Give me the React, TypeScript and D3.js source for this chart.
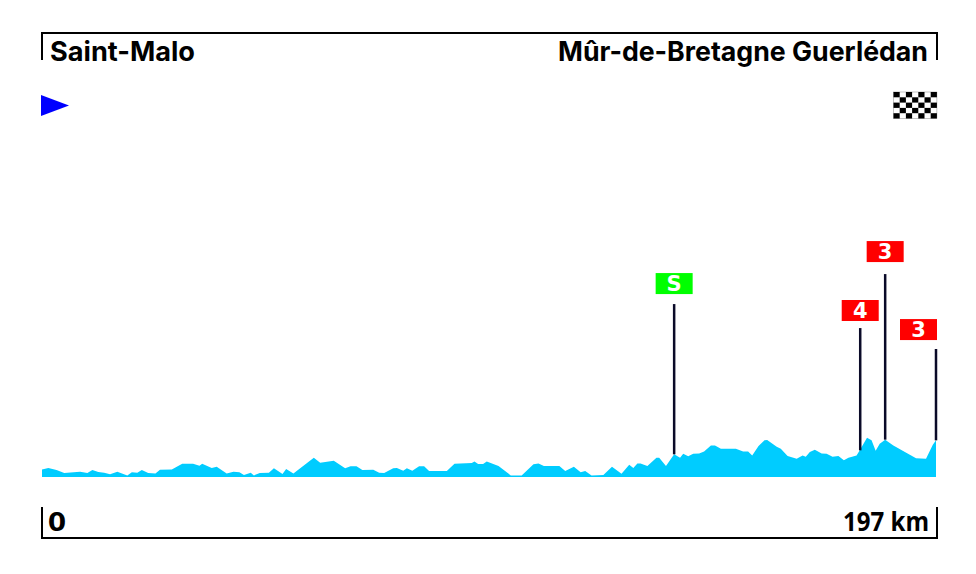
import { useEffect, useRef } from "react";
import * as d3 from "d3";

const width = 976;
const height = 574;

const startName = "Saint-Malo";
const finishName = "Mûr-de-Bretagne Guerlédan";
const distanceLabels = ["0", "197 km"];
const totalKm = 197;

// profile (km, metres)
const profileKm = [
  0, 1.4, 3.2, 4.9, 8.4, 10, 11.1, 12.4, 13.7, 15, 16.6, 18.8, 19.8, 21, 22, 23.4, 25, 26, 28.6, 30.9,
  33.3, 34.7, 35.3, 37.4, 38.5, 40.7, 42.2, 43.5, 44.5, 46, 46.7, 48, 50, 51.1, 53, 53.8, 55.4, 59.9, 61.3, 64.3,
  66.8, 68, 69.3, 70.6, 73, 74.3, 75.4, 77.4, 78.2, 79.6, 80.4, 81.6, 83.1, 84.2, 85.3, 89.2, 90.9, 94.7, 95.3, 96.1,
  97.2, 98, 100.6, 103.3, 105.7, 108.3, 109.4, 110.6, 114, 115.3, 117.2, 118.7, 119.7, 121.1, 123.7, 125.6, 127.7, 129.4, 130.3, 131.2,
  131.9, 133.4, 135.4, 136, 137.5, 139.3, 140.6, 141.3, 142.4, 143.5, 144.8, 145.9, 147.4, 148.3, 149.6, 152.9, 154.5, 155.6, 156.5, 157.9,
  159.2, 159.8, 161.9, 162.8, 164.3, 166.3, 167.6, 168.3, 169.2, 170.3, 171.8, 172.9, 174.2, 175.5, 176.7, 177.7, 179.5, 180.2, 181.8, 182.8,
  183.7, 184.6, 185.8, 187.6, 192.6, 194.8, 196.3, 197,
];
const profileElevation = [
  57, 67, 52, 30, 40, 30, 52, 37, 32, 20, 40, 12, 35, 32, 52, 30, 27, 55, 57, 100,
  100, 85, 100, 67, 77, 27, 40, 35, 15, 32, 12, 30, 32, 65, 22, 60, 27, 145, 107, 122,
  65, 80, 80, 52, 55, 32, 30, 65, 67, 47, 65, 47, 80, 80, 45, 45, 100, 105, 117, 97,
  97, 117, 82, 12, 12, 95, 102, 82, 82, 45, 77, 35, 45, 12, 15, 77, 25, 92, 67, 102,
  102, 82, 145, 145, 82, 170, 145, 175, 155, 175, 177, 192, 237, 237, 212, 212, 192, 192, 162, 232,
  275, 277, 227, 212, 157, 137, 162, 152, 187, 205, 177, 175, 152, 157, 125, 145, 162, 200, 295, 275,
  197, 250, 280, 237, 140, 137, 242, 275,
];

// climbs and sprint
const climbLabels = ["S", "4", "3", "3"];
const climbKm = [139.3, 180.3, 185.8, 197];
const climbBase = [170, 200, 280, 275];
const climbPoleTop = [1297, 1117, 1522, 960];
const climbFlagBottom = [1372, 1170, 1612, 1027];
const climbColors = ["#00ff00", "#ff0000", "#ff0000", "#ff0000"];

export default function App() {
  const ref = useRef<SVGSVGElement>(null);

  useEffect(() => {
    const svg = d3.select(ref.current);
    svg.selectAll("*").remove();

    const x = d3.scaleLinear([0, totalKm], [42, 936]);
    const y = d3.scaleLinear([0, 300], [477, 437]);

    const area = d3.area<number>()
      .x((d) => x(d))
      .y0(y(0))
      .y1((d, i) => y(profileElevation[i]));

    svg.append("path")
      .attr("d", area(profileKm))
      .attr("fill", "#00ccff");

    // poles
    svg.append("g")
      .selectAll("line")
      .data(climbKm)
      .join("line")
      .attr("x1", (d) => x(d))
      .attr("x2", (d) => x(d))
      .attr("y1", (d, i) => y(climbBase[i]))
      .attr("y2", (d, i) => y(climbPoleTop[i]))
      .attr("stroke", "#0a0a28")
      .attr("stroke-width", 2.5);

    const flagW = 37;
    const flagH = 21;
    const flags = svg.append("g")
      .selectAll("g")
      .data(climbKm)
      .join("g")
      .attr("transform", (d, i) => {
        const cx = Math.min(x(d), 937 - flagW / 2);
        return `translate(${cx},${y(climbFlagBottom[i])})`;
      });

    flags.append("rect")
      .attr("x", -flagW / 2)
      .attr("y", -flagH)
      .attr("width", flagW)
      .attr("height", flagH)
      .attr("fill", (d, i) => climbColors[i]);

    flags.append("text")
      .attr("y", -3)
      .attr("text-anchor", "middle")
      .attr("font-family", "'DejaVu Sans'")
      .attr("font-weight", "bold")
      .attr("font-size", 21)
      .attr("fill", "white")
      .text((d, i) => climbLabels[i]);

    // frames top and bottom
    const frame = d3.line();
    svg.append("path")
      .attr("d", frame([[42, 60], [42, 33], [937, 33], [937, 60]]))
      .attr("fill", "none")
      .attr("stroke", "black")
      .attr("stroke-width", 2);
    svg.append("path")
      .attr("d", frame([[42, 507], [42, 538], [937, 538], [937, 507]]))
      .attr("fill", "none")
      .attr("stroke", "black")
      .attr("stroke-width", 2);

    const label = (text: string, px: number, py: number, w: number, size: number, family: string, weight: number) =>
      svg.append("text")
        .attr("x", px)
        .attr("y", py)
        .attr("font-family", family)
        .attr("font-weight", weight)
        .attr("font-size", size)
        .attr("textLength", w)
        .attr("lengthAdjust", "spacingAndGlyphs")
        .attr("fill", "black")
        .text(text);

    label(startName, 50, 60.5, 145, 27, "Inter", 700);
    label(finishName, 558, 60.5, 370, 27, "Inter", 700);
    label(distanceLabels[0], 48, 531, 18, 27, "'Open Sans'", 700);
    label(distanceLabels[1], 843, 531, 86, 27, "'Open Sans'", 700);

    // start arrow
    svg.append("path")
      .attr("d", frame([[41, 95], [69, 105.5], [41, 116]]) + "Z")
      .attr("fill", "#0000ff");

    // finish flag
    const cols = d3.range(7);
    const rows = d3.range(5);
    const cellW = 6.2;
    const cellH = 5.3;
    const flag = svg.append("g").attr("transform", "translate(893.5,92)");
    flag.append("rect")
      .attr("width", cellW * cols.length)
      .attr("height", cellH * rows.length)
      .attr("fill", "white")
      .attr("stroke", "#888")
      .attr("stroke-width", 0.5);
    rows.forEach((r) => {
      cols.forEach((c) => {
        if ((r + c) % 2 === 0) {
          flag.append("rect")
            .attr("x", c * cellW)
            .attr("y", r * cellH)
            .attr("width", cellW)
            .attr("height", cellH)
            .attr("fill", "black");
        }
      });
    });
  }, []);

  return (
    <svg
      ref={ref}
      width={width}
      height={height}
      style={{ position: "absolute", left: 0, top: 0, background: "white" }}
    />
  );
}
